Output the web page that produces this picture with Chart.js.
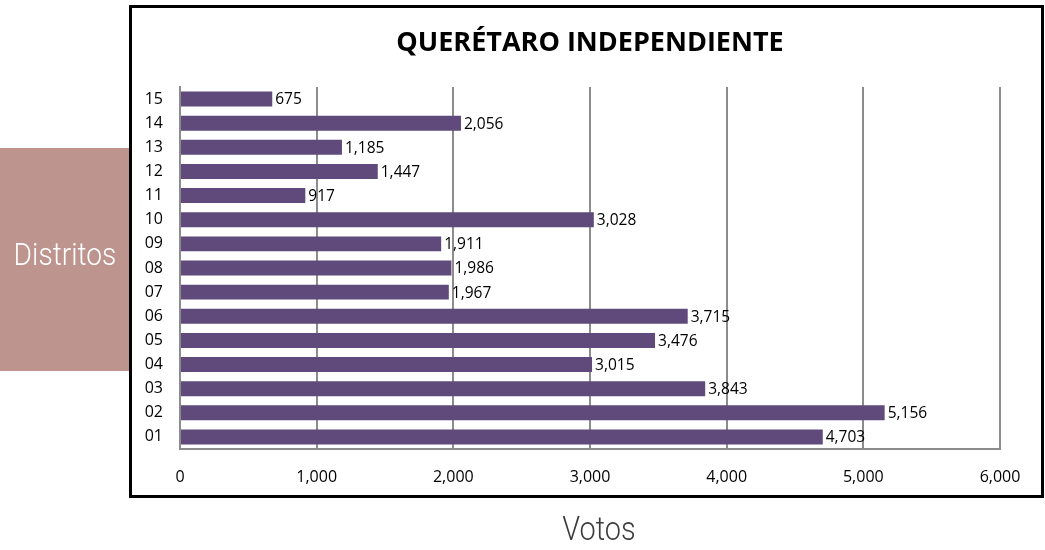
<!DOCTYPE html>
<html><head><meta charset="utf-8">
<script src="https://cdn.jsdelivr.net/npm/chart.js@4/dist/chart.umd.min.js"></script>
<style>html,body{margin:0;padding:0;background:#fff}#wrap{position:relative;width:1045px;height:550px}</style>
</head><body><div id="wrap"><canvas id="c" width="1045" height="550"></canvas></div>
<script>
const categories = ['01','02','03','04','05','06','07','08','09','10','11','12','13','14','15'];
const votos = [4703,5156,3843,3015,3476,3715,1967,1986,1911,3028,917,1447,1185,2056,675];
const xTickValues = [0,1000,2000,3000,4000,5000,6000];
const titleText = 'QUERÉTARO INDEPENDIENTE';
const yTitleText = 'Distritos';
const xTitleText = 'Votos';

const fmt = v => Number(v).toLocaleString('en-US');

function condensedText(ctx, text, cx, baseline, font, color, sx) {
  ctx.save();
  ctx.font = font;
  ctx.fillStyle = color;
  ctx.textAlign = 'center';
  ctx.textBaseline = 'alphabetic';
  ctx.translate(cx, baseline);
  ctx.scale(sx, 1);
  ctx.fillText(text, 0, 0);
  ctx.restore();
}

const decor = {
  id: 'decor',
  beforeDraw(chart) {
    const ctx = chart.ctx;
    ctx.save();
    ctx.fillStyle = '#BE948E';
    ctx.fillRect(0, 148, 129, 223);
    ctx.restore();
    condensedText(ctx, yTitleText, 65, 265, '300 32px Roboto', '#FFFFFF', 0.88);
  },
  afterDraw(chart) {
    const ctx = chart.ctx;
    ctx.save();
    ctx.strokeStyle = '#000';
    ctx.lineWidth = 3;
    ctx.strokeRect(130.5, 6.5, 912, 490);
    ctx.restore();
    condensedText(ctx, xTitleText, 599, 540, '300 34px Roboto', '#3C3C3C', 0.85);
  }
};

const valueLabels = {
  id: 'valueLabels',
  afterDatasetsDraw(chart) {
    const ctx = chart.ctx;
    const meta = chart.getDatasetMeta(0);
    ctx.save();
    ctx.font = '15.5px "Open Sans"';
    ctx.fillStyle = '#000';
    ctx.textAlign = 'left';
    ctx.textBaseline = 'middle';
    meta.data.forEach((bar, i) => {
      ctx.fillText(fmt(votos[i]), bar.x + 3, bar.y + 1);
    });
    ctx.restore();
  }
};

new Chart(document.getElementById('c'), {
  type: 'bar',
  data: {
    labels: categories,
    datasets: [{
      data: votos,
      backgroundColor: '#604A7B',
      borderWidth: 0,
      barPercentage: 0.62,
      categoryPercentage: 1
    }]
  },
  options: {
    indexAxis: 'y',
    responsive: false,
    animation: false,
    devicePixelRatio: 1,
    layout: { padding: { top: 6, right: 45, bottom: 0, left: 0 } },
    plugins: {
      legend: { display: false },
      tooltip: { enabled: false },
      title: {
        display: true,
        text: titleText,
        fullSize: false,
        color: '#000',
        font: { family: 'Open Sans', size: 27, weight: 'bold', lineHeight: 1.2 },
        padding: { top: 21, bottom: 27.6 }
      }
    },
    scales: {
      x: {
        min: 0, max: 6000,
        afterBuildTicks(scale) { scale.ticks = xTickValues.map(v => ({ value: v })); },
        afterFit(scale) { scale.height = 101; },
        grid: { color: '#8C8C8C', lineWidth: 2, drawTicks: false },
        border: { display: true, color: '#8C8C8C', width: 2 },
        ticks: {
          padding: 19,
          color: '#000',
          font: { family: 'Open Sans', size: 16 },
          callback: v => fmt(v)
        }
      },
      y: {
        reverse: true,
        afterFit(scale) { scale.width = 180; },
        grid: { display: false, drawTicks: false },
        border: { display: true, color: '#8C8C8C', width: 2 },
        ticks: {
          padding: 17,
          color: '#000',
          font: { family: 'Open Sans', size: 16 }
        }
      }
    }
  },
  plugins: [decor, valueLabels]
});
</script>
</body></html>
